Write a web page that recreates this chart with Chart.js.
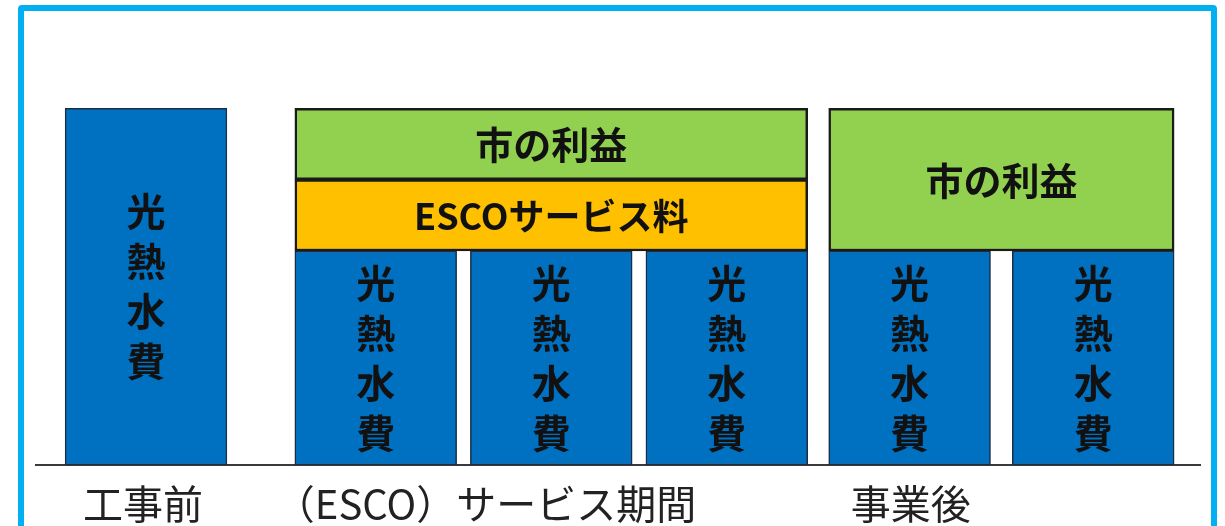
<!DOCTYPE html>
<html lang="ja">
<head>
<meta charset="utf-8">
<title>ESCO事業のしくみ</title>
<script src="https://cdn.jsdelivr.net/npm/chart.js@4.4.1/dist/chart.umd.min.js"></script>
<style>
  html, body { margin: 0; padding: 0; background: #fff; }
  #wrap { position: relative; width: 1225px; height: 526px; overflow: hidden; }
  #frame { position: absolute; left: 18px; top: 5px; width: 1187px; height: 560px; border: 6px solid #00b0f0; border-radius: 4px; pointer-events: none; }
  canvas { position: absolute; left: 0; top: 0; }
</style>
</head>
<body>
<div id="wrap">
  <canvas id="esco" width="1225" height="526"></canvas>
  <div id="frame"></div>
</div>
<script>
// data
const groups = ['工事前', '（ESCO）サービス期間', '事業後'];
const barsPerGroup = [1, 3, 2];
const utilityCost = [100, 60, 60, 60, 60, 60];   // 光熱水費, one per bar
const escoFee = [0, 20, 0];                      // ESCOサービス料, per group
const cityBenefit = [0, 20, 40];                 // 市の利益, per group
const yMax = 120;

// layout, in bar widths
const gapBefore = [0.18, 0.42, 0.13];
const innerGap = [0, 0.085, 0.135];
const gapAfter = 0.16;
const labelIndent = [18, -20, 22];   // px, category label offset from group start

let pos = 0, k = 0;
const groupStart = [], groupSpan = [], groupBase = [], barX = [];
groups.forEach((g, i) => {
    pos += gapBefore[i];
    groupStart.push(pos);
    groupBase.push(utilityCost[k]);
    for (let b = 0; b < barsPerGroup[i]; b++) {
        if (b > 0) pos += innerGap[i];
        barX.push(pos + 0.5);
        pos += 1;
        k++;
    }
    groupSpan.push(pos - groupStart[i]);
});
const xMax = pos + gapAfter;

const datasets = [{
    label: '光熱水費',
    data: barX.map((x, i) => ({ x: x, y: [0, utilityCost[i]] })),
    span: 1,
    vertical: true,
    fontSize: 39,
    backgroundColor: '#0070c0',
    borderColor: '#1b2d44',
    borderWidth: 1.5
}];

groups.forEach((g, i) => {
    const mid = groupStart[i] + groupSpan[i] / 2;
    const base = groupBase[i];
    if (escoFee[i] > 0) {
        datasets.push({
            label: 'ESCOサービス料',
            data: [{ x: mid, y: [base, base + escoFee[i]] }],
            span: groupSpan[i],
            fontSize: 36,
            backgroundColor: '#ffc000',
            borderColor: '#1a1a1a',
            borderWidth: 2.5
        });
    }
    if (cityBenefit[i] > 0) {
        datasets.push({
            label: '市の利益',
            data: [{ x: mid, y: [base + escoFee[i], base + escoFee[i] + cityBenefit[i]] }],
            span: groupSpan[i],
            fontSize: 38,
            backgroundColor: '#92d050',
            borderColor: '#1a1a1a',
            borderWidth: 2.5
        });
    }
});

// bar widths follow the x scale
const fitThickness = {
    id: 'fitThickness',
    afterLayout(chart) {
        const x = chart.scales.x;
        const ppu = x.getPixelForValue(1) - x.getPixelForValue(0);
        chart.data.datasets.forEach(ds => { ds.barThickness = ds.span * ppu; });
    }
};

const boxLabels = {
    id: 'boxLabels',
    afterDatasetsDraw(chart) {
        const ctx = chart.ctx;
        ctx.save();
        ctx.fillStyle = '#111';
        ctx.textAlign = 'center';
        ctx.textBaseline = 'middle';
        chart.data.datasets.forEach((ds, i) => {
            chart.getDatasetMeta(i).data.forEach(bar => {
                const cy = (bar.y + bar.base) / 2;
                ctx.font = `bold ${ds.fontSize}px "Noto Sans CJK JP", sans-serif`;
                if (ds.vertical) {
                    const chars = [...ds.label];
                    const step = 50;
                    chars.forEach((c, j) => {
                        ctx.fillText(c, bar.x, cy + (j - (chars.length - 1) / 2) * step);
                    });
                } else {
                    ctx.fillText(ds.label, bar.x, cy + 1);
                }
            });
        });

        // category labels under the base line
        const x = chart.scales.x;
        ctx.font = '40px "Noto Sans CJK JP", sans-serif';
        ctx.fillStyle = '#222';
        ctx.textAlign = 'left';
        groups.forEach((g, i) => {
            ctx.fillText(g, x.getPixelForValue(groupStart[i]) + labelIndent[i], chart.chartArea.bottom + 39);
        });
        ctx.restore();
    }
};

const chart = new Chart(document.getElementById('esco'), {
    type: 'bar',
    data: { datasets: datasets },
    options: {
        responsive: false,
        animation: false,
        grouped: false,
        borderSkipped: false,
        layout: { padding: { left: 36, right: 25, top: 37, bottom: 61 } },
        plugins: { legend: { display: false }, tooltip: { enabled: false } },
        scales: {
            x: {
                type: 'linear',
                min: 0,
                max: xMax,
                offset: false,
                grid: { display: false, drawTicks: false },
                ticks: { display: false },
                border: { display: true, color: '#3a3a3a', width: 2 }
            },
            y: { min: 0, max: yMax, display: false }
        }
    },
    plugins: [fitThickness, boxLabels]
});
chart.update('none');
</script>
</body>
</html>
